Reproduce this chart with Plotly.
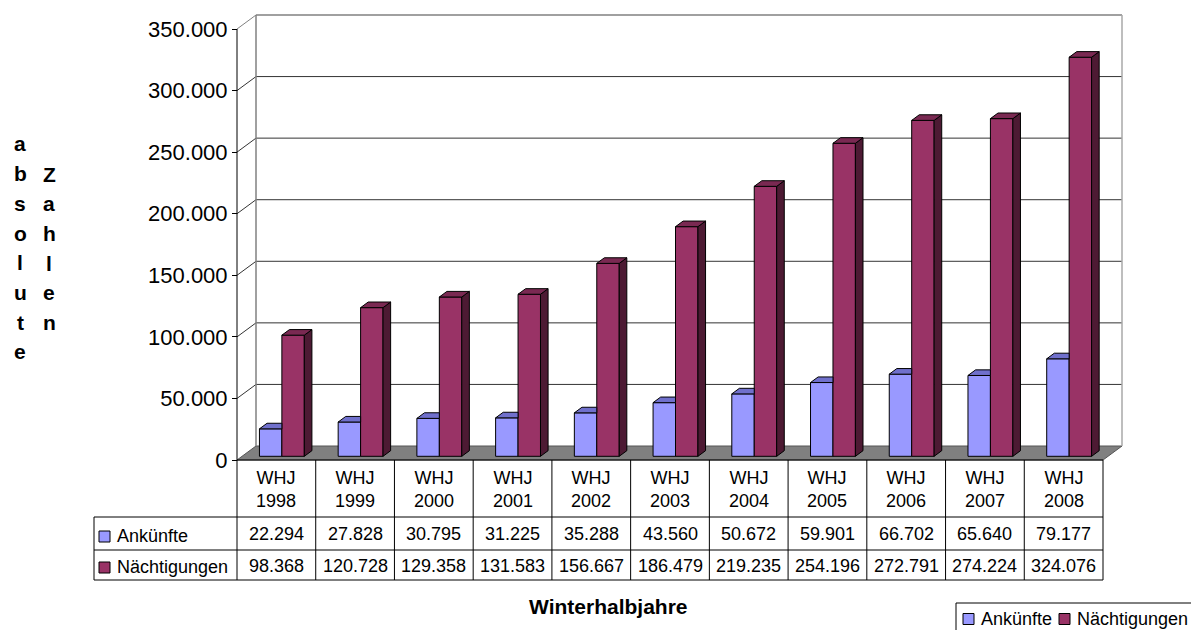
import plotly.graph_objects as go

# ---- data -------------------------------------------------------------
categories = ["1998", "1999", "2000", "2001", "2002", "2003",
              "2004", "2005", "2006", "2007", "2008"]
category_prefix = "WHJ"
ankuenfte = [22294, 27828, 30795, 31225, 35288, 43560,
             50672, 59901, 66702, 65640, 79177]
naechtigungen = [98368, 120728, 129358, 131583, 156667, 186479,
                 219235, 254196, 272791, 274224, 324076]
series_names = ["Ankünfte", "Nächtigungen"]
y_ticks = [0, 50000, 100000, 150000, 200000, 250000, 300000, 350000]
x_title = "Winterhalbjahre"
y_title_words = ["absolute", "Zahlen"]

# ---- styling ----------------------------------------------------------
FONT = "Liberation Sans, Arial, sans-serif"
BLUE_FRONT, BLUE_TOP = "#9999FF", "#7070CC"
RED_FRONT, RED_TOP, RED_SIDE = "#993366", "#7A2952", "#4D1A33"
GRID = "#333333"
EDGE = "#808080"

W, H = 1191, 630
X0_PX, X1_PX = 237, 1103        # front edge of the category axis
Y0_PX, YTOP_PX = 460, 29        # value 0 and top tick on the front plane
n = len(categories)
ymax = y_ticks[-1]
ux = (X1_PX - X0_PX) / n        # pixels per category
uy = (Y0_PX - YTOP_PX) / ymax   # pixels per value unit


def xd(px):
    return (px - X0_PX) / ux


def yd(py):
    return (Y0_PX - py) / uy


def pxf(px):
    return px / W


def pyf(py):
    return 1 - py / H


# 3-D offsets (in data units)
WX, WY = 19 / ux, 14 / uy       # wall depth
BX, BY = 7.6 / ux, 5.6 / uy     # column depth
BASE = 3.7 / uy                 # columns stand slightly behind the front edge
BW = 0.285                      # column width in category units
OFF = [0.285, 0.57]             # column offsets within a category


def fmt(v):
    return f"{v:,}".replace(",", ".")


fig = go.Figure()

# front faces of the columns
for name, vals, col, off in [(series_names[0], ankuenfte, BLUE_FRONT, OFF[0]),
                             (series_names[1], naechtigungen, RED_FRONT, OFF[1])]:
    fig.add_trace(go.Bar(
        x=list(range(n)), y=vals, base=BASE, width=BW, offset=off,
        marker=dict(color=col, line=dict(color="black", width=1)),
        name=name, showlegend=False, hoverinfo="skip"))


def poly_trace(polys, color):
    xs, ys = [], []
    for p in polys:
        for (a, b) in p:
            xs.append(a)
            ys.append(b)
        xs.append(p[0][0])
        ys.append(p[0][1])
        xs.append(None)
        ys.append(None)
    return go.Scatter(x=xs, y=ys, mode="lines", fill="toself",
                      fillcolor=color, line=dict(color="black", width=1),
                      showlegend=False, hoverinfo="skip")


blue_tops, red_tops, red_sides = [], [], []
for i in range(n):
    # Ankünfte: top face, hidden part behind the neighbouring column cut off
    x0, x1 = i + OFF[0], i + OFF[0] + BW
    t = BASE + ankuenfte[i]
    blue_tops.append([(x0, t), (x1, t), (x1, t + BY), (x0 + BX, t + BY)])
    # Nächtigungen: top and right side faces
    x0, x1 = i + OFF[1], i + OFF[1] + BW
    t = BASE + naechtigungen[i]
    red_tops.append([(x0, t), (x1, t), (x1 + BX, t + BY), (x0 + BX, t + BY)])
    red_sides.append([(x1, BASE), (x1, t), (x1 + BX, t + BY), (x1 + BX, BASE + BY)])

fig.add_trace(poly_trace(blue_tops, BLUE_TOP))
fig.add_trace(poly_trace(red_sides, RED_SIDE))
fig.add_trace(poly_trace(red_tops, RED_TOP))

shapes = []
# floor
shapes.append(dict(type="path", xref="x", yref="y", layer="below",
                   path=f"M 0,0 L {n},0 L {n + WX},{WY} L {WX},{WY} Z",
                   fillcolor="#808080", line=dict(color="#555555", width=1)))
# back wall gridlines and left wall diagonals
for v in y_ticks:
    c = EDGE if v == ymax else GRID
    if v > 0:
        shapes.append(dict(type="line", xref="x", yref="y", layer="below",
                           x0=WX, y0=v + WY, x1=n + WX, y1=v + WY,
                           line=dict(color=c, width=1 if v < ymax else 1.5)))
        shapes.append(dict(type="line", xref="x", yref="y", layer="below",
                           x0=0, y0=v, x1=WX, y1=v + WY,
                           line=dict(color=c, width=1)))
# back wall vertical edges
shapes.append(dict(type="line", xref="x", yref="y", layer="below",
                   x0=WX, y0=WY, x1=WX, y1=ymax + WY,
                   line=dict(color=EDGE, width=1.5)))
shapes.append(dict(type="line", xref="x", yref="y", layer="below",
                   x0=n + WX, y0=WY, x1=n + WX, y1=ymax + WY,
                   line=dict(color="#A8A8A8", width=1.5)))
# front value axis
shapes.append(dict(type="line", xref="x", yref="y",
                   x0=0, y0=0, x1=0, y1=ymax, line=dict(color="black", width=1)))

# ---- data table --------------------------------------------------------
HEAD_TOP, R1_TOP, R2_TOP, BOTTOM, LEFT = 460, 517, 550, 580, 94
line_k = dict(color="black", width=1)
shapes.append(dict(type="line", xref="x", yref="paper", x0=0, x1=n,
                   y0=pyf(HEAD_TOP), y1=pyf(HEAD_TOP), line=line_k))
for yy in (R1_TOP, R2_TOP, BOTTOM):
    shapes.append(dict(type="line", xref="paper", yref="paper",
                       x0=pxf(LEFT), x1=pxf(X1_PX), y0=pyf(yy), y1=pyf(yy),
                       line=line_k))
for k in range(n + 1):
    shapes.append(dict(type="line", xref="x", yref="paper", x0=k, x1=k,
                       y0=pyf(HEAD_TOP), y1=pyf(BOTTOM), line=line_k))
shapes.append(dict(type="line", xref="paper", yref="paper",
                   x0=pxf(LEFT), x1=pxf(LEFT), y0=pyf(R1_TOP), y1=pyf(BOTTOM),
                   line=line_k))

annotations = []
tfont = dict(family=FONT, size=18, color="black")
for i, c in enumerate(categories):
    annotations.append(dict(xref="x", yref="paper", x=i + 0.5, y=pyf(489.5),
                            text=f"{category_prefix}<br>{c}", showarrow=False,
                            font=tfont, xanchor="center", yanchor="middle"))
    annotations.append(dict(xref="x", yref="paper", x=i + 0.5, y=pyf(534),
                            text=fmt(ankuenfte[i]), showarrow=False, font=tfont,
                            xanchor="center", yanchor="middle"))
    annotations.append(dict(xref="x", yref="paper", x=i + 0.5, y=pyf(565.5),
                            text=fmt(naechtigungen[i]), showarrow=False,
                            font=tfont, xanchor="center", yanchor="middle"))

# legend keys inside the table
for name, col, yc in [(series_names[0], BLUE_FRONT, 536.5),
                      (series_names[1], RED_FRONT, 567.5)]:
    shapes.append(dict(type="rect", xref="paper", yref="paper",
                       x0=pxf(99), x1=pxf(110), y0=pyf(yc - 5.5), y1=pyf(yc + 5.5),
                       fillcolor=col, line=line_k))
    annotations.append(dict(xref="paper", yref="paper", x=pxf(115), y=pyf(yc - 1),
                            text=name, showarrow=False, font=tfont,
                            xanchor="left", yanchor="middle"))

# legend box at bottom right
shapes.append(dict(type="rect", xref="paper", yref="paper",
                   x0=pxf(956), x1=pxf(1200), y0=pyf(603), y1=pyf(640),
                   fillcolor="white", line=line_k))
for name, col, xs in [(series_names[0], BLUE_FRONT, 963),
                      (series_names[1], RED_FRONT, 1059)]:
    shapes.append(dict(type="rect", xref="paper", yref="paper",
                       x0=pxf(xs), x1=pxf(xs + 11), y0=pyf(613.5), y1=pyf(624.5),
                       fillcolor=col, line=line_k))
    annotations.append(dict(xref="paper", yref="paper", x=pxf(xs + 16), y=pyf(618.5),
                            text=name, showarrow=False, font=tfont,
                            xanchor="left", yanchor="middle"))

# axis titles
annotations.append(dict(xref="paper", yref="paper", x=pxf(608), y=pyf(606),
                        text=f"<b>{x_title}</b>", showarrow=False,
                        font=dict(family=FONT, size=21, color="black"),
                        xanchor="center", yanchor="middle"))
for word, xc, y_start in [(y_title_words[0], 20, 144), (y_title_words[1], 49, 174)]:
    for j, ch in enumerate(word):
        annotations.append(dict(xref="paper", yref="paper", x=pxf(xc),
                                y=pyf(y_start + j * 29.7), text=f"<b>{ch}</b>",
                                showarrow=False,
                                font=dict(family=FONT, size=21, color="black"),
                                xanchor="center", yanchor="middle"))

fig.update_layout(
    width=W, height=H, autosize=False,
    margin=dict(l=0, r=0, t=0, b=0, pad=0),
    paper_bgcolor="white", plot_bgcolor="rgba(0,0,0,0)",
    separators=",.",
    barmode="overlay",
    showlegend=False,
    font=dict(family=FONT, color="black"),
    xaxis=dict(domain=[0, 1], range=[xd(0), xd(W)], visible=False, fixedrange=True),
    yaxis=dict(domain=[0, 1], range=[yd(H), yd(0)], anchor="free",
               position=pxf(X0_PX), tickvals=y_ticks, tickformat=",d",
               ticks="outside", ticklen=5, tickcolor="black", tickwidth=1,
               showline=False, showgrid=False, zeroline=False,
               tickfont=dict(family=FONT, size=22, color="black"),
               fixedrange=True),
    shapes=shapes,
    annotations=annotations,
)

fig.write_html("out.html")
